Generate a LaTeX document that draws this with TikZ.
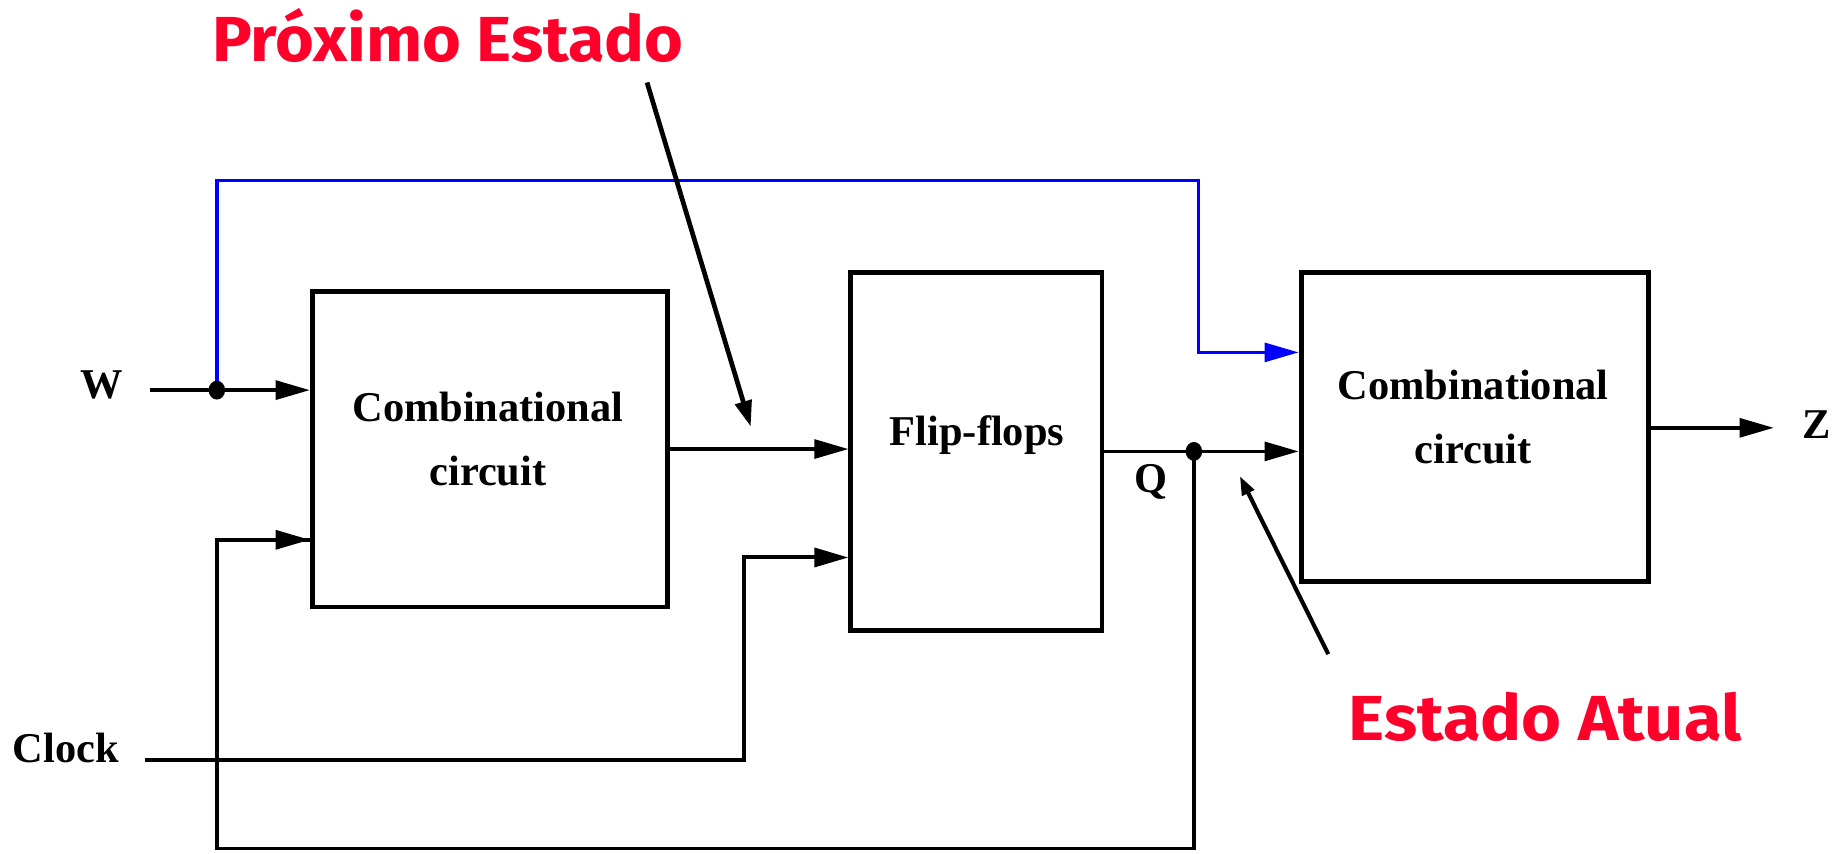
\documentclass[tikz,border=0pt]{standalone}
\usepackage{graphicx}
\usepackage{fontspec}
\setmainfont{Liberation Serif}
\newfontfamily\redfont{Fira Sans}
\usetikzlibrary{arrows.meta,shapes.geometric}
\definecolor{annred}{RGB}{255,0,43}
\definecolor{wireblue}{RGB}{0,0,255}
\begin{document}
\begin{tikzpicture}[x=1pt,y=-1pt,
  blockbox/.style={draw,line width=4.2pt,inner sep=0pt},
  wire/.style={line width=3pt},
  sig/.style={wire,-{Triangle[length=29pt,width=16pt]}},
  lbl/.style={font=\fontsize{36}{36}\selectfont\bfseries,inner sep=0pt,anchor=base},
  ann/.style={font=\redfont\bfseries\fontsize{54}{54}\selectfont,text=annred,inner sep=0pt,anchor=base},
  dot/.style={ellipse,fill,inner sep=0pt,minimum width=14pt,minimum height=16pt},
]
\useasboundingbox (0,0) rectangle (1568,724);
% blocks
\node[blockbox,minimum width=301pt,minimum height=268pt] (cc1) at (415.5,381) {};
\node[blockbox,minimum width=213pt,minimum height=304pt] (ff) at (828.5,383) {};
\node[blockbox,minimum width=295pt,minimum height=262pt] (cc2) at (1251.5,362) {};
% texts
\node[lbl] (cc1a) at (414,358) {Combinational};
\node[lbl] (cc1b) at (414,412) {circuit};
\node[lbl] (ffl) at (829,378) {Flip-flops};
\node[lbl] (cc2a) at (1250,339) {Combinational};
\node[lbl] (cc2b) at (1250,393) {circuit};
\node[lbl] (wl) at (86,338) {W};
\node[lbl] (cl) at (56,647) {Clock};
\node[lbl] (ql) at (977,418) {Q};
\node[lbl] (zl) at (1541,372) {Z};
\node[ann] (pe) at (380,52) {\resizebox{400pt}{\height}{Próximo Estado}};
\node[ann] (ea) at (1311,628) {\resizebox{333pt}{\height}{Estado Atual}};
% coordinates
\coordinate (win) at (127,331);
\coordinate (b1) at (184,153);
\coordinate (b2) at (1017,153);
\coordinate (b3) at (1017,299);
\coordinate (clk0) at (123,645);
\coordinate (clk1) at (631,645);
\coordinate (clk2) at (631,473);
\coordinate (fb1) at (1013,720);
\coordinate (fb2) at (184,720);
\coordinate (fb3) at (184,458);
\coordinate (zend) at (1505,363);
\coordinate (pa) at (549,70);
\coordinate (pb) at (637,362);
\coordinate (ea0) at (1127,555);
\coordinate (ea1) at (1052,404);
% wires
\draw[sig,wireblue] (184,331) -- (b1) -- (b2) -- (b3) -- (cc2.west |- b3);
\draw[sig] (win) -- (cc1.west |- win);
\node[dot] (wd) at (184,331) {};
\draw[sig] (cc1.east) -- (cc1.east -| ff.west);
\draw[sig,line width=3.4pt] (clk0) -- (clk1) -- (clk2) -- (clk2 -| ff.west);
\node[dot] (qd) at (1013,383) {};
\draw[sig] (ff.east |- qd) -- (cc2.west |- qd);
\draw[wire] (qd.center) -- (fb1) -- (fb2) -- (fb3) -- (fb3 -| cc1.west);
\draw[sig] (fb3) -- (fb3 -| cc1.west);
\draw[sig] (cc2.east |- zend) -- (zend);
% annotation arrows
\draw[line width=4pt,-{Triangle[length=22pt,width=14pt]}] (pa) -- (pb);
\draw[line width=3.5pt,-{Triangle[length=16pt,width=11pt]}] (ea0) -- (ea1);
\end{tikzpicture}
\end{document}
